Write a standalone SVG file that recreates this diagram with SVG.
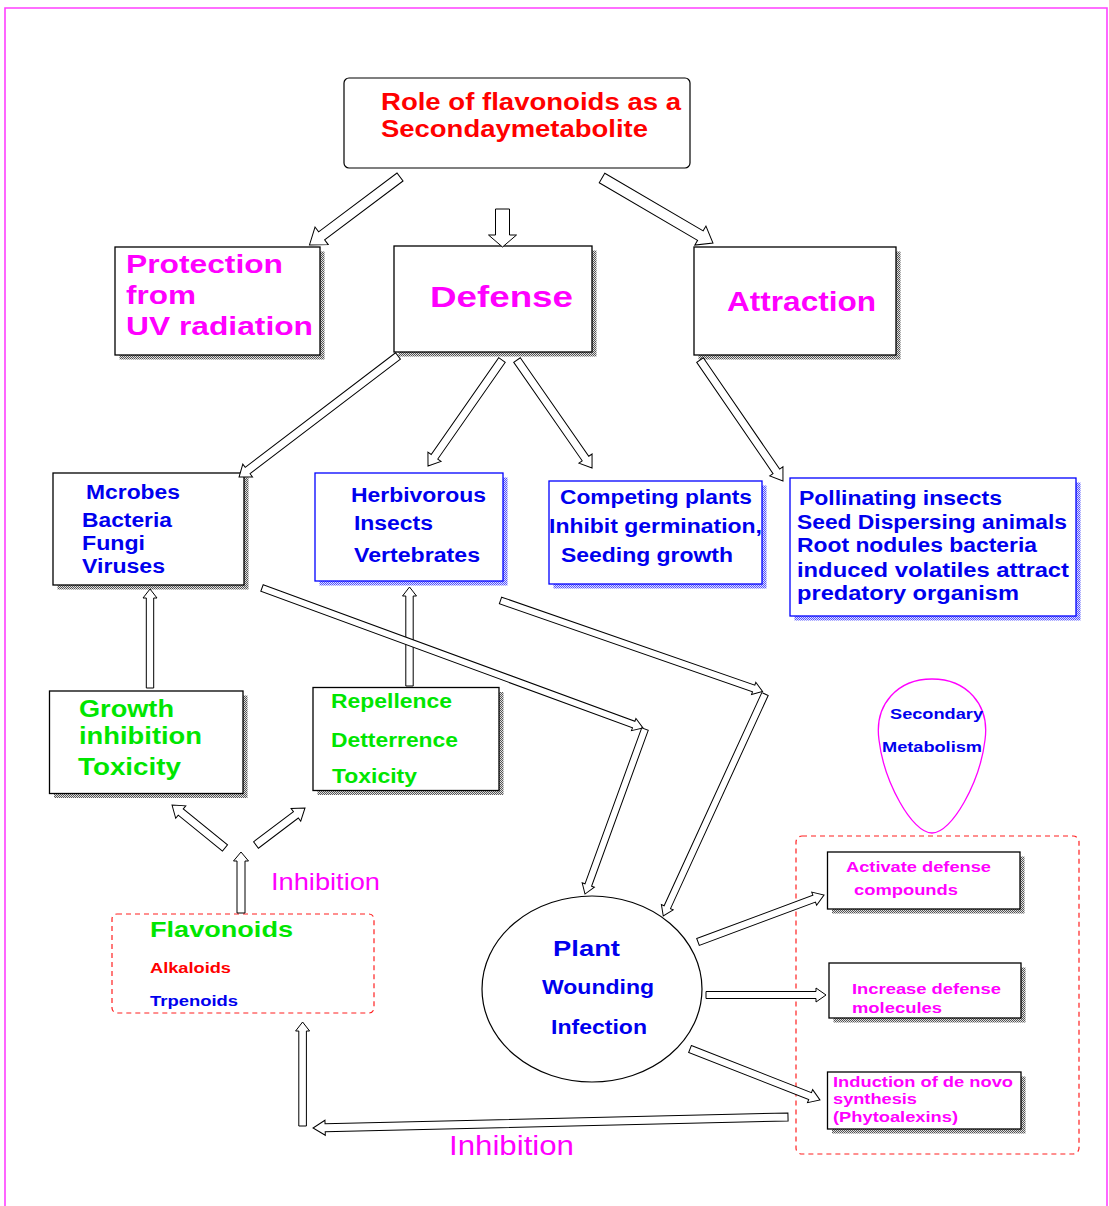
<svg xmlns="http://www.w3.org/2000/svg" width="1109" height="1206" viewBox="0 0 1109 1206">
<defs>
<pattern id="sg" width="2" height="2" patternUnits="userSpaceOnUse"><rect width="2" height="2" fill="#e0e0e0"/><rect width="1" height="1" fill="#555"/><rect x="1" y="1" width="1" height="1" fill="#555"/></pattern>
<pattern id="sb" width="2" height="2" patternUnits="userSpaceOnUse"><rect width="2" height="2" fill="#e0e0ff"/><rect width="1" height="1" fill="#5555ff"/><rect x="1" y="1" width="1" height="1" fill="#5555ff"/></pattern>
</defs>
<style>
.t{font-family:"Liberation Sans",Arial,sans-serif;font-weight:bold}
.n{font-family:"Liberation Sans",Arial,sans-serif;font-weight:normal}
.box{fill:#fff;stroke:#000;stroke-width:1.3}
.bbox{fill:#fff;stroke:#0000ff;stroke-width:1.3}
.sh{fill:url(#sg);stroke:none}
.shb{fill:url(#sb);stroke:none}
.dash{fill:none;stroke:#ff2020;stroke-width:1.2;stroke-dasharray:5,4}
.arr{fill:#fff;stroke:#000;stroke-width:1}
.mg{fill:#ff00ff}.bl{fill:#0000ee}.gr{fill:#00e600}.rd{fill:#ff0000}
</style>
<rect width="1109" height="1206" fill="#fff"/>
<path d="M5,1206 V8 H1107 V1206" fill="none" stroke="#ff40ff" stroke-width="1.6"/>

<g id="title">
<rect x="344" y="78" width="346" height="90" rx="5" fill="#fff" stroke="#000" stroke-width="1.2"/>
<text class="t rd" font-size="23" x="381" y="110" textLength="300" lengthAdjust="spacingAndGlyphs">Role of flavonoids as a</text>
<text class="t rd" font-size="23" x="381" y="137" textLength="267" lengthAdjust="spacingAndGlyphs">Secondaymetabolite</text>
</g>

<g id="protection">
<rect class="sh" x="119.5" y="251.5" width="205" height="108"/>
<rect class="box" x="115" y="247" width="205" height="108"/>
<text class="t mg" font-size="26" x="126" y="273" textLength="157" lengthAdjust="spacingAndGlyphs">Protection</text>
<text class="t mg" font-size="26" x="126" y="304" textLength="70" lengthAdjust="spacingAndGlyphs">from</text>
<text class="t mg" font-size="26" x="126" y="335" textLength="187" lengthAdjust="spacingAndGlyphs">UV radiation</text>
</g>

<g id="defense">
<rect class="sh" x="398.5" y="250.5" width="198" height="106"/>
<rect class="box" x="394" y="246" width="198" height="106"/>
<text class="t mg" font-size="30" x="430" y="307" textLength="143" lengthAdjust="spacingAndGlyphs">Defense</text>
</g>

<g id="attraction">
<rect class="sh" x="698.5" y="251.5" width="202" height="108"/>
<rect class="box" x="694" y="247" width="202" height="108"/>
<text class="t mg" font-size="27" x="727" y="311" textLength="149" lengthAdjust="spacingAndGlyphs">Attraction</text>
</g>

<g id="microbes">
<rect class="sh" x="57.5" y="477.5" width="191" height="112"/>
<rect class="box" x="53" y="473" width="191" height="112"/>
<text class="t bl" font-size="19.5" x="86" y="499" textLength="94" lengthAdjust="spacingAndGlyphs">Mcrobes</text>
<text class="t bl" font-size="19.5" x="82" y="527" textLength="90" lengthAdjust="spacingAndGlyphs">Bacteria</text>
<text class="t bl" font-size="19.5" x="82" y="550" textLength="63" lengthAdjust="spacingAndGlyphs">Fungi</text>
<text class="t bl" font-size="19.5" x="82" y="573" textLength="83" lengthAdjust="spacingAndGlyphs">Viruses</text>
</g>

<g id="herbivorous">
<rect class="shb" x="319.5" y="477.5" width="188" height="108"/>
<rect class="bbox" x="315" y="473" width="188" height="108"/>
<text class="t bl" font-size="19.5" x="351" y="502" textLength="135" lengthAdjust="spacingAndGlyphs">Herbivorous</text>
<text class="t bl" font-size="19.5" x="354" y="530" textLength="79" lengthAdjust="spacingAndGlyphs">Insects</text>
<text class="t bl" font-size="19.5" x="354" y="562" textLength="126" lengthAdjust="spacingAndGlyphs">Vertebrates</text>
</g>

<g id="competing">
<rect class="shb" x="553.5" y="485.5" width="213" height="103"/>
<rect class="bbox" x="549" y="481" width="213" height="103"/>
<text class="t bl" font-size="19.5" x="560" y="504" textLength="192" lengthAdjust="spacingAndGlyphs">Competing plants</text>
<text class="t bl" font-size="19.5" x="549" y="533" textLength="213" lengthAdjust="spacingAndGlyphs">Inhibit germination,</text>
<text class="t bl" font-size="19.5" x="561" y="562" textLength="172" lengthAdjust="spacingAndGlyphs">Seeding growth</text>
</g>

<g id="pollinating">
<rect class="shb" x="794.5" y="482.5" width="286" height="138"/>
<rect class="bbox" x="790" y="478" width="286" height="138"/>
<text class="t bl" font-size="19.5" x="799" y="505" textLength="203" lengthAdjust="spacingAndGlyphs">Pollinating insects</text>
<text class="t bl" font-size="19.5" x="797" y="529" textLength="270" lengthAdjust="spacingAndGlyphs">Seed Dispersing animals</text>
<text class="t bl" font-size="19.5" x="797" y="552" textLength="240" lengthAdjust="spacingAndGlyphs">Root nodules bacteria</text>
<text class="t bl" font-size="19.5" x="797" y="577" textLength="272" lengthAdjust="spacingAndGlyphs">induced volatiles attract</text>
<text class="t bl" font-size="19.5" x="797" y="600" textLength="222" lengthAdjust="spacingAndGlyphs">predatory organism</text>
</g>

<g id="growth">
<rect class="sh" x="54" y="695.5" width="193.5" height="102.5"/>
<rect class="box" x="49.5" y="691" width="193.5" height="102.5"/>
<text class="t gr" font-size="23" x="79" y="717" textLength="95" lengthAdjust="spacingAndGlyphs">Growth</text>
<text class="t gr" font-size="23" x="79" y="744" textLength="123" lengthAdjust="spacingAndGlyphs">inhibition</text>
<text class="t gr" font-size="23" x="78" y="775" textLength="103" lengthAdjust="spacingAndGlyphs">Toxicity</text>
</g>

<g id="repellence">
<rect class="sh" x="317.5" y="692" width="186" height="103"/>
<rect class="box" x="313" y="687.5" width="186" height="103"/>
<text class="t gr" font-size="19.5" x="331" y="708" textLength="121" lengthAdjust="spacingAndGlyphs">Repellence</text>
<text class="t gr" font-size="19.5" x="331" y="747" textLength="127" lengthAdjust="spacingAndGlyphs">Detterrence</text>
<text class="t gr" font-size="19.5" x="332" y="783" textLength="85" lengthAdjust="spacingAndGlyphs">Toxicity</text>
</g>

<g id="secondary">
<path d="M932,679 C966,679 990,704 985,740 C980,782 952,833 932,833 C912,833 884,782 879,740 C874,704 898,679 932,679 Z" fill="none" stroke="#ff00ff" stroke-width="1.3"/>
<text class="t bl" font-size="15" x="890" y="719" textLength="93" lengthAdjust="spacingAndGlyphs">Secondary</text>
<text class="t bl" font-size="15" x="882" y="752" textLength="100" lengthAdjust="spacingAndGlyphs">Metabolism</text>
</g>

<g id="responses">
<rect class="dash" x="796" y="836" width="283" height="318" rx="6"/>
</g>

<g id="activate">
<rect class="sh" x="832" y="856.5" width="192.5" height="57"/>
<rect class="box" x="827.5" y="852" width="192.5" height="57"/>
<text class="t mg" font-size="15.5" x="846" y="872" textLength="145" lengthAdjust="spacingAndGlyphs">Activate defense</text>
<text class="t mg" font-size="15.5" x="854" y="895" textLength="104" lengthAdjust="spacingAndGlyphs">compounds</text>
</g>

<g id="increase">
<rect class="sh" x="833.5" y="967.5" width="192" height="55"/>
<rect class="box" x="829" y="963" width="192" height="55"/>
<text class="t mg" font-size="15.5" x="852" y="994" textLength="149" lengthAdjust="spacingAndGlyphs">Increase defense</text>
<text class="t mg" font-size="15.5" x="852" y="1013" textLength="90" lengthAdjust="spacingAndGlyphs">molecules</text>
</g>

<g id="induction">
<rect class="sh" x="832" y="1076.5" width="193.5" height="57"/>
<rect class="box" x="827.5" y="1072" width="193.5" height="57"/>
<text class="t mg" font-size="15.5" x="833" y="1087" textLength="180" lengthAdjust="spacingAndGlyphs">Induction of de novo</text>
<text class="t mg" font-size="15.5" x="833" y="1104" textLength="84" lengthAdjust="spacingAndGlyphs">synthesis</text>
<text class="t mg" font-size="15.5" x="833" y="1122" textLength="125" lengthAdjust="spacingAndGlyphs">(Phytoalexins)</text>
</g>

<g id="plant">
<ellipse cx="592" cy="989" rx="110" ry="93" fill="#fff" stroke="#000" stroke-width="1.2"/>
<text class="t bl" font-size="22" x="553" y="956" textLength="67" lengthAdjust="spacingAndGlyphs">Plant</text>
<text class="t bl" font-size="19.5" x="542" y="994" textLength="112" lengthAdjust="spacingAndGlyphs">Wounding</text>
<text class="t bl" font-size="19.5" x="551" y="1034" textLength="96" lengthAdjust="spacingAndGlyphs">Infection</text>
</g>

<g id="flavonoids">
<rect class="dash" x="112" y="914" width="262" height="99" rx="5"/>
<text class="t gr" font-size="22" x="150" y="937" textLength="143" lengthAdjust="spacingAndGlyphs">Flavonoids</text>
<text class="t rd" font-size="15" x="150" y="973" textLength="81" lengthAdjust="spacingAndGlyphs">Alkaloids</text>
<text class="t bl" font-size="15" x="150" y="1006" textLength="88" lengthAdjust="spacingAndGlyphs">Trpenoids</text>
</g>

<g id="labels">
<text class="n mg" font-size="24" x="271" y="890" textLength="109" lengthAdjust="spacingAndGlyphs">Inhibition</text>
<text class="n mg" font-size="27" x="449" y="1155" textLength="125" lengthAdjust="spacingAndGlyphs">Inhibition</text>
</g>

<g id="connectors" class="arr">
<path transform="translate(400,177) rotate(143.1)" d="M0,-5 H98 V-11 L113.2,0 L98,11 V5 H0 Z"/>
<path transform="translate(502.5,209) rotate(90)" d="M0,-7 H26 V-14 L38,0 L26,14 V7 H0 Z"/>
<path transform="translate(602,178) rotate(30.35)" d="M0,-5.5 H114 V-11 L128.6,0 L114,11 V5.5 H0 Z"/>
<path transform="translate(398,356) rotate(142.7)" d="M0,-4 H189 V-8 L199.8,0 L189,8 V4 H0 Z"/>
<path transform="translate(502,360) rotate(124.9)" d="M0,-4 H118 V-8 L129.3,0 L118,8 V4 H0 Z"/>
<path transform="translate(517,360) rotate(55.2)" d="M0,-4 H120 V-8 L131.5,0 L120,8 V4 H0 Z"/>
<path transform="translate(700,360) rotate(55.56)" d="M0,-4 H135 V-8 L146.7,0 L135,8 V4 H0 Z"/>
<path transform="translate(150,688) rotate(-90)" d="M0,-3.7 H90 V-7 L99,0 L90,7 V3.7 H0 Z"/>
<path transform="translate(409.5,686) rotate(-90)" d="M0,-3.7 H90 V-7 L99,0 L90,7 V3.7 H0 Z"/>
<path transform="translate(262,588) rotate(20.17)" d="M0,-3.5 H396 V-6.5 L405.9,0 L396,6.5 V3.5 H0 Z"/>
<path transform="translate(645,729) rotate(109.98)" d="M0,-3.5 H166 V-6.5 L175.6,0 L166,6.5 V3.5 H0 Z"/>
<path transform="translate(500.5,600.5) rotate(19.15)" d="M0,-3.5 H268 V-6.5 L277.4,0 L268,6.5 V3.5 H0 Z"/>
<path transform="translate(765,694) rotate(114.62)" d="M0,-3.5 H234.5 V-6.5 L244.2,0 L234.5,6.5 V3.5 H0 Z"/>
<path transform="translate(698,942) rotate(-20.46)" d="M0,-3.7 H124 V-7 L134.5,0 L124,7 V3.7 H0 Z"/>
<path transform="translate(706,995) rotate(0)" d="M0,-3.5 H110 V-7 L120,0 L110,7 V3.5 H0 Z"/>
<path transform="translate(690,1049) rotate(21.42)" d="M0,-3.7 H129 V-7 L139.6,0 L129,7 V3.7 H0 Z"/>
<path transform="translate(788,1117) rotate(178.67)" d="M0,-4 H463 V-7.5 L475.1,0 L463,7.5 V4 H0 Z"/>
<path transform="translate(302.6,1126) rotate(-90)" d="M0,-3.8 H95 V-7 L104,0 L95,7 V3.8 H0 Z"/>
<path transform="translate(241,913) rotate(-90)" d="M0,-4 H52 V-7.5 L61,0 L52,7.5 V4 H0 Z"/>
<path transform="translate(225,848) rotate(-140.94)" d="M0,-4 H57 V-8 L68.2,0 L57,8 V4 H0 Z"/>
<path transform="translate(256,845) rotate(-37.06)" d="M0,-4 H50 V-8 L61.4,0 L50,8 V4 H0 Z"/>
</g>
</svg>
